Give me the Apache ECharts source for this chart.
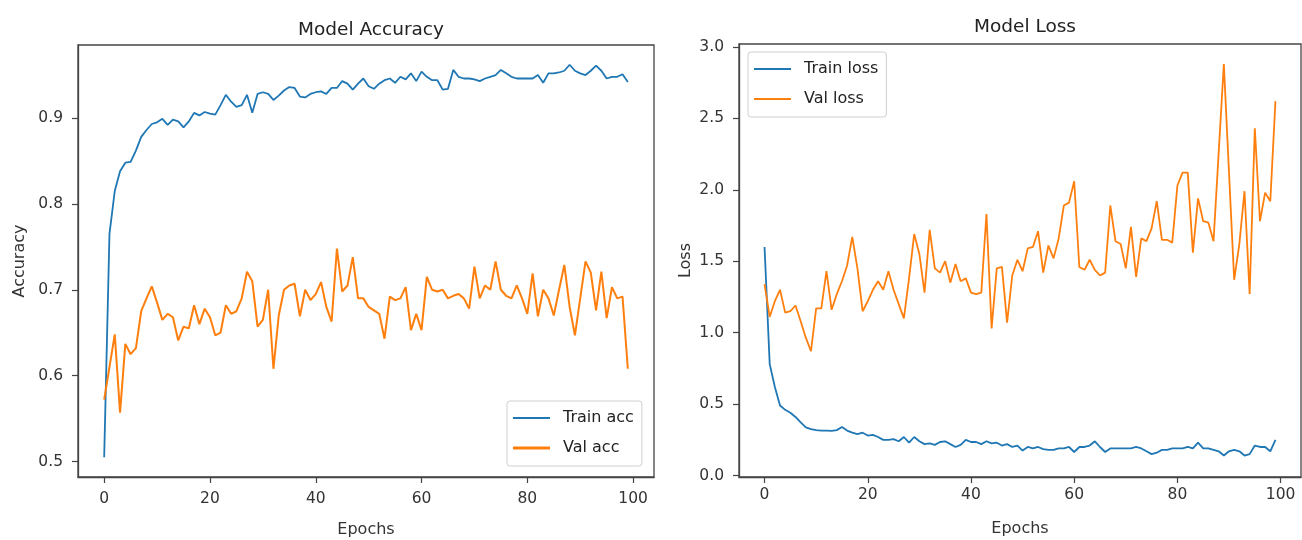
<!DOCTYPE html>
<html><head><meta charset="utf-8">
<script src="https://cdn.jsdelivr.net/npm/echarts@6/dist/echarts.min.js"></script>
<style>html,body{margin:0;padding:0;background:#fff}#c{width:1302px;height:540px}</style>
</head><body><div id="c"></div>
<script>
// ---- Data ----
const trainAcc = [
0.505,0.765,0.815,0.838,0.848,0.849,0.862,0.878,0.886,0.893,
0.895,0.899,0.892,0.898,0.896,0.889,0.896,0.906,0.903,0.907,
0.905,0.904,0.915,0.927,0.919,0.913,0.915,0.927,0.906,0.928,
0.930,0.928,0.921,0.926,0.932,0.936,0.935,0.925,0.924,0.928,
0.930,0.931,0.928,0.935,0.935,0.943,0.940,0.933,0.940,0.946,
0.937,0.934,0.940,0.944,0.946,0.941,0.948,0.945,0.952,0.943,
0.954,0.948,0.944,0.944,0.933,0.934,0.956,0.948,0.946,0.946,
0.945,0.943,0.946,0.948,0.950,0.956,0.952,0.948,0.946,0.946,
0.946,0.946,0.950,0.941,0.952,0.952,0.953,0.955,0.962,0.955,
0.952,0.950,0.955,0.961,0.955,0.946,0.948,0.948,0.951,0.942];
const valAcc = [
0.572,0.610,0.648,0.557,0.637,0.625,0.632,0.675,0.690,0.704,
0.685,0.665,0.672,0.668,0.641,0.657,0.655,0.682,0.660,0.678,
0.668,0.647,0.650,0.682,0.672,0.675,0.690,0.721,0.710,0.657,
0.665,0.700,0.608,0.670,0.700,0.705,0.707,0.669,0.700,0.688,
0.695,0.709,0.680,0.663,0.748,0.698,0.705,0.738,0.690,0.690,
0.680,0.676,0.672,0.643,0.692,0.688,0.690,0.703,0.653,0.672,
0.653,0.715,0.700,0.698,0.700,0.690,0.693,0.695,0.690,0.678,
0.727,0.690,0.705,0.700,0.733,0.700,0.693,0.690,0.705,0.690,
0.672,0.719,0.669,0.700,0.690,0.670,0.700,0.729,0.680,0.647,
0.690,0.733,0.720,0.676,0.721,0.667,0.703,0.690,0.692,0.608];
const trainLoss = [
1.60,0.78,0.62,0.49,0.46,0.44,0.41,0.372,0.337,0.325,
0.318,0.315,0.315,0.313,0.318,0.34,0.315,0.30,0.29,0.30,
0.28,0.285,0.27,0.25,0.25,0.255,0.24,0.27,0.23,0.27,
0.24,0.22,0.225,0.215,0.235,0.24,0.22,0.20,0.215,0.25,
0.235,0.235,0.22,0.24,0.225,0.23,0.21,0.22,0.20,0.21,
0.175,0.20,0.19,0.20,0.185,0.18,0.18,0.19,0.19,0.20,
0.165,0.20,0.20,0.21,0.24,0.20,0.165,0.19,0.19,0.19,
0.19,0.19,0.20,0.19,0.17,0.15,0.16,0.18,0.18,0.19,
0.19,0.19,0.20,0.19,0.23,0.19,0.19,0.18,0.17,0.14,
0.17,0.18,0.17,0.14,0.15,0.21,0.20,0.20,0.17,0.25];
const valLoss = [
1.34,1.11,1.22,1.30,1.14,1.15,1.19,1.08,0.965,0.87,
1.17,1.17,1.43,1.16,1.27,1.36,1.47,1.67,1.45,1.15,
1.22,1.30,1.36,1.30,1.43,1.30,1.20,1.10,1.38,1.69,
1.55,1.28,1.72,1.45,1.42,1.50,1.35,1.48,1.36,1.38,
1.28,1.27,1.28,1.83,1.03,1.45,1.46,1.07,1.40,1.51,
1.43,1.59,1.60,1.71,1.42,1.61,1.52,1.66,1.89,1.91,
2.06,1.46,1.44,1.51,1.44,1.40,1.42,1.89,1.64,1.62,
1.45,1.74,1.39,1.66,1.64,1.73,1.92,1.65,1.65,1.63,
2.03,2.12,2.12,1.56,1.94,1.78,1.77,1.64,2.26,2.88,
2.12,1.37,1.62,1.99,1.27,2.43,1.78,1.98,1.92,2.62];
const epochTicks = [0,20,40,60,80,100];
const accTicks = [0.5,0.6,0.7,0.8,0.9];
const lossTicks = [0,0.5,1,1.5,2,2.5,3];

// ---- Chart ----
const toPts = arr => arr.map((v,i)=>[i,v]);
const FONT = 'DejaVu Sans';
const BLUE = '#1f77b4', ORANGE = '#ff7f0e';
const AXC = '#444', TXT = '#333';

function xAxis(grid, labelMargin, nameGap){
  return {type:'value', gridIndex:grid, min:-4.95, max:103.95,
    name:'Epochs', nameLocation:'middle', nameGap:nameGap,
    nameTextStyle:{fontFamily:FONT, fontSize:16, color:TXT},
    axisLine:{show:true, onZero:false, lineStyle:{color:AXC, width:1.3}},
    axisTick:{show:true, length:6, customValues:epochTicks, lineStyle:{color:AXC, width:1.2}},
    axisLabel:{customValues:epochTicks, margin:labelMargin, fontFamily:FONT, fontSize:15.5, color:TXT},
    splitLine:{show:false}};
}
function yAxis(grid, min, max, ticks, name, nameGap){
  return {type:'value', gridIndex:grid, min:min, max:max,
    name:name, nameLocation:'middle', nameGap:nameGap,
    nameTextStyle:{fontFamily:FONT, fontSize:16, color:TXT},
    axisLine:{show:true, onZero:false, lineStyle:{color:AXC, width:1.3}},
    axisTick:{show:true, length:6, customValues:ticks, lineStyle:{color:AXC, width:1.2}},
    axisLabel:{customValues:ticks, margin:15, fontFamily:FONT, fontSize:15.5, color:TXT,
      formatter: v => Number(v).toFixed(1)},
    splitLine:{show:false}};
}
const ICON_THIN = 'path://M0 0H37V1.8H0Z';
const ICON_THICK = 'path://M0 0H37V3.2H0Z';
function legend(names, icons, left, top){
  return {orient:'vertical', left:left, top:top,
    data:names.map((n,i)=>({name:n, icon:icons[i]})),
    itemWidth:37, itemHeight:14, itemGap:14, symbolKeepAspect:true, itemIconKeepAspect:true,
    padding:[9,8,10,6], backgroundColor:'rgba(255,255,255,0.85)',
    borderColor:'#d0d0d0', borderWidth:1, borderRadius:3,
    textStyle:{fontFamily:FONT, fontSize:16, color:'#222', padding:[0,0,0,8]}};
}

const chart = echarts.init(document.getElementById('c'), null, {renderer:'canvas'});
chart.setOption({
  animation:false,
  backgroundColor:'#fff',
  title:[
    {text:'Model Accuracy', left:366, top:16, textAlign:'center',
      textStyle:{fontFamily:FONT, fontSize:18.5, fontWeight:'normal', color:'#222'}},
    {text:'Model Loss', left:1020, top:13, textAlign:'center',
      textStyle:{fontFamily:FONT, fontSize:18.5, fontWeight:'normal', color:'#222'}}
  ],
  grid:[
    {left:78, top:45, width:576, height:432, show:true, borderColor:AXC, borderWidth:1.3,
      backgroundColor:'transparent', containLabel:false, outerBoundsMode:'none'},
    {left:739, top:44, width:562, height:433, show:true, borderColor:AXC, borderWidth:1.3,
      backgroundColor:'transparent', containLabel:false, outerBoundsMode:'none'}
  ],
  xAxis:[xAxis(0, 14, 45), xAxis(1, 10, 44)],
  yAxis:[
    yAxis(0, 0.482, 0.985, accTicks, 'Accuracy', 50),
    yAxis(1, -0.01, 3.02, lossTicks, 'Loss', 45)
  ],
  legend:[
    legend(['Train acc','Val acc'], [ICON_THIN, ICON_THICK], 507, 401),
    legend(['Train loss','Val loss'], [ICON_THIN, ICON_THIN], 748, 52)
  ],
  series:[
    {name:'Train acc', type:'line', xAxisIndex:0, yAxisIndex:0, data:toPts(trainAcc),
      symbol:'none', color:BLUE, lineStyle:{width:1.8, color:BLUE}},
    {name:'Val acc', type:'line', xAxisIndex:0, yAxisIndex:0, data:toPts(valAcc),
      symbol:'none', color:ORANGE, lineStyle:{width:2, color:ORANGE}},
    {name:'Train loss', type:'line', xAxisIndex:1, yAxisIndex:1, data:toPts(trainLoss),
      symbol:'none', color:BLUE, lineStyle:{width:1.8, color:BLUE}},
    {name:'Val loss', type:'line', xAxisIndex:1, yAxisIndex:1, data:toPts(valLoss),
      symbol:'none', color:ORANGE, lineStyle:{width:1.8, color:ORANGE}}
  ]
});
</script></body></html>
